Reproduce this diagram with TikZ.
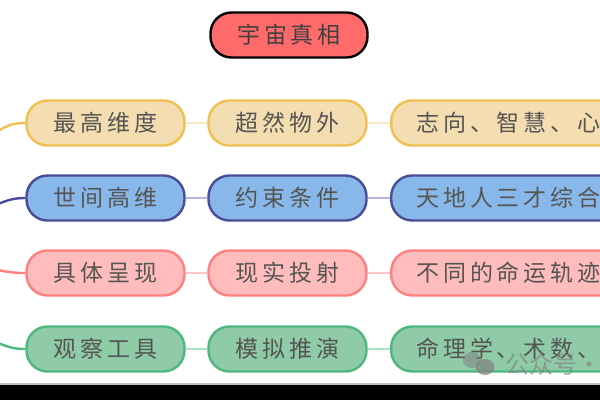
\documentclass[tikz,border=0pt]{standalone}
\usepackage{fontspec}
\newfontfamily\cjk[LetterSpace=17]{Noto Sans CJK SC}
\newfontfamily\cjkplain{Noto Sans CJK SC}
\definecolor{txt}{HTML}{555553}
\definecolor{yf}{HTML}{F5DDB2}\definecolor{yd}{HTML}{F0C050}\definecolor{yl}{HTML}{FBE8C4}
\definecolor{bf}{HTML}{88B8EA}\definecolor{bd}{HTML}{4A4C98}\definecolor{bl}{HTML}{B4B4D8}
\definecolor{rf}{HTML}{FFBCBC}\definecolor{rd}{HTML}{FF8080}\definecolor{rl}{HTML}{FFC4C4}
\definecolor{gf}{HTML}{8ECBA6}\definecolor{gd}{HTML}{4DB87E}\definecolor{gl}{HTML}{A8E2C2}
\definecolor{rootred}{HTML}{FF6B6B}
\tikzset{
  boxbase/.style={draw,line width=2.4pt,rounded corners=21pt,minimum height=45pt,inner sep=0pt,
    font=\cjk\fontsize{23}{26}\selectfont,text=txt},
  short/.style={boxbase,minimum width=158pt,align=center},
  long/.style={boxbase,minimum width=260pt,anchor=west},
  yel/.style={fill=yf,draw=yd},blu/.style={fill=bf,draw=bd},
  pnk/.style={fill=rf,draw=rd},grn/.style={fill=gf,draw=gd},
  conn/.style={line width=1.5pt},
  lead/.style={line width=2.4pt},
  ltext/.style={anchor=west,inner sep=0pt,font=\cjk\fontsize{23}{26}\selectfont,text=txt},
}
\begin{document}
\begin{tikzpicture}[x=1pt,y=-1pt]
\useasboundingbox (0,0) rectangle (600,400);
\clip (0,0) rectangle (600,400);
\fill[white] (0,0) rectangle (600,400);
\node[boxbase,fill=rootred,draw=black,minimum width=157pt,text=black!75] (root) at (289,35) {宇宙真相};
% row 1
\coordinate (s1) at (-2,131);
\node[short,yel] (a1) at (105.5,123) {最高维度};
\node[short,yel] (b1) at (287.5,123) {超然物外};
\node[long,yel] (c1) at (390,123) {};
\node[ltext] (t1) at (416,123) {志向、智慧、心};
% row 2
\coordinate (s2) at (-2,204);
\node[short,blu] (a2) at (105.5,198) {世间高维};
\node[short,blu] (b2) at (287.5,198) {约束条件};
\node[long,blu] (c2) at (390,198) {};
\node[ltext] (t2) at (416,198) {天地人三才综合};
% row 3
\coordinate (s3) at (-2,270);
\node[short,pnk] (a3) at (105.5,273) {具体呈现};
\node[short,pnk] (b3) at (287.5,273) {现实投射};
\node[long,pnk] (c3) at (390,273) {};
\node[ltext] (t3) at (416,273) {不同的命运轨迹};
% row 4
\coordinate (s4) at (-2,343);
\node[short,grn] (a4) at (105.5,349) {观察工具};
\node[short,grn] (b4) at (287.5,349) {模拟推演};
\node[long,grn] (c4) at (390,349) {};
\node[ltext] (t4) at (416,349) {命理学、术数、};
% connectors
\draw[lead,yd] (s1) .. controls (8,125) and (14,123) .. (a1.west);
\draw[lead,bd] (s2) .. controls (8,200) and (14,198) .. (a2.west);
\draw[lead,rd] (s3) .. controls (8,272) and (14,273) .. (a3.west);
\draw[lead,gd] (s4) .. controls (8,347) and (14,349) .. (a4.west);
\draw[conn,yl] (a1) -- (b1); \draw[conn,yl] (b1) -- (c1);
\draw[conn,bl] (a2) -- (b2); \draw[conn,bl] (b2) -- (c2);
\draw[conn,rl] (a3) -- (b3); \draw[conn,rl] (b3) -- (c3);
\draw[conn,gl] (a4) -- (b4); \draw[conn,gl] (b4) -- (c4);
% watermark
\fill[gray,opacity=.55] (472,360) ellipse (9pt and 8pt);
\fill[gray,opacity=.7] (485,367) ellipse (9.5pt and 8pt);
\node[anchor=west,inner sep=0pt,text=gray,opacity=.65,font=\cjkplain\fontsize{24}{26}\selectfont] (wm) at (505,364) {公众号·};
% bottom band
\fill[black!25] (0,383) rectangle (600,385);
\fill[black] (0,384.5) rectangle (600,400);
\end{tikzpicture}
\end{document}
